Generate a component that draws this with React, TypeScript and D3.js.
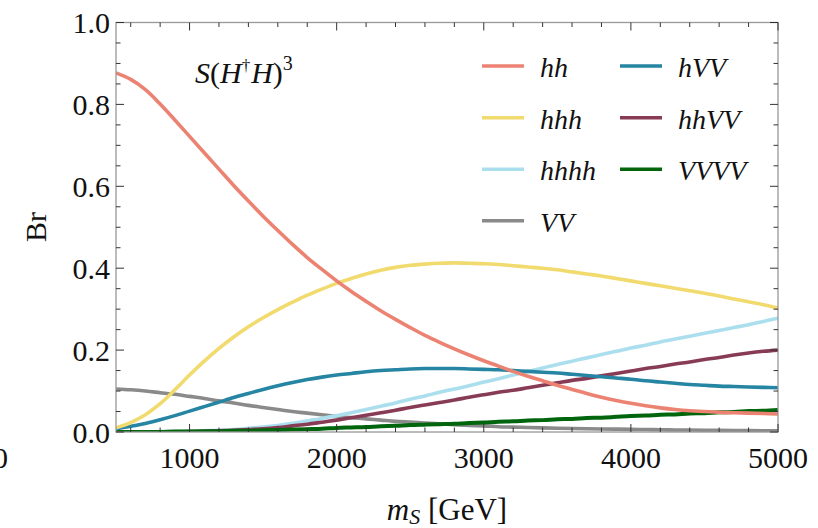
import React from "react";
import * as d3 from "d3";

const mass = [500, 600, 700, 800, 900, 1000, 1100, 1200, 1300, 1400, 1500, 1600, 1700, 1800, 1900, 2000, 2100, 2200, 2300, 2400, 2500, 2600, 2700, 2800, 2900, 3000, 3100, 3200, 3300, 3400, 3500, 3600, 3700, 3800, 3900, 4000, 4100, 4200, 4300, 4400, 4500, 4600, 4700, 4800, 4900, 5000];

const brHH = [0.877, 0.861, 0.836, 0.801, 0.762, 0.722, 0.682, 0.642, 0.602, 0.564, 0.527, 0.492, 0.458, 0.426, 0.397, 0.369, 0.343, 0.319, 0.296, 0.275, 0.255, 0.236, 0.219, 0.203, 0.188, 0.174, 0.161, 0.148, 0.136, 0.125, 0.114, 0.104, 0.094, 0.085, 0.077, 0.07, 0.064, 0.059, 0.055, 0.052, 0.05, 0.048, 0.047, 0.046, 0.045, 0.044];
const brHHH = [0.01, 0.023, 0.042, 0.069, 0.103, 0.139, 0.173, 0.204, 0.232, 0.257, 0.279, 0.299, 0.317, 0.334, 0.349, 0.363, 0.375, 0.386, 0.395, 0.402, 0.407, 0.41, 0.412, 0.413, 0.412, 0.411, 0.409, 0.406, 0.403, 0.4, 0.396, 0.391, 0.386, 0.381, 0.375, 0.369, 0.363, 0.357, 0.351, 0.345, 0.339, 0.332, 0.325, 0.318, 0.311, 0.303];
const brHHHH = [0, 0, 0, 0.001, 0.001, 0.002, 0.003, 0.004, 0.006, 0.009, 0.012, 0.016, 0.021, 0.027, 0.033, 0.04, 0.047, 0.055, 0.063, 0.071, 0.08, 0.088, 0.097, 0.105, 0.113, 0.122, 0.13, 0.139, 0.148, 0.156, 0.165, 0.173, 0.181, 0.189, 0.197, 0.205, 0.212, 0.22, 0.227, 0.234, 0.241, 0.248, 0.255, 0.262, 0.27, 0.278];
const brVV = [0.105, 0.103, 0.1, 0.096, 0.092, 0.087, 0.082, 0.076, 0.071, 0.065, 0.06, 0.055, 0.05, 0.046, 0.042, 0.038, 0.035, 0.032, 0.029, 0.026, 0.024, 0.022, 0.02, 0.018, 0.016, 0.015, 0.013, 0.012, 0.011, 0.01, 0.009, 0.0085, 0.008, 0.0075, 0.007, 0.0065, 0.006, 0.0055, 0.005, 0.0047, 0.0044, 0.0041, 0.0038, 0.0035, 0.0032, 0.003];
const brHVV = [0.008, 0.014, 0.021, 0.03, 0.04, 0.051, 0.062, 0.073, 0.084, 0.094, 0.104, 0.113, 0.121, 0.128, 0.134, 0.139, 0.143, 0.147, 0.15, 0.152, 0.154, 0.155, 0.155, 0.155, 0.154, 0.153, 0.152, 0.15, 0.148, 0.146, 0.144, 0.141, 0.138, 0.135, 0.132, 0.129, 0.125, 0.122, 0.119, 0.116, 0.114, 0.112, 0.111, 0.11, 0.109, 0.108];
const brHHVV = [0, 0, 0, 0, 0, 0.001, 0.002, 0.003, 0.004, 0.006, 0.008, 0.011, 0.015, 0.019, 0.024, 0.029, 0.035, 0.041, 0.047, 0.053, 0.06, 0.066, 0.072, 0.078, 0.085, 0.091, 0.097, 0.102, 0.108, 0.114, 0.12, 0.126, 0.131, 0.137, 0.143, 0.149, 0.155, 0.16, 0.166, 0.171, 0.177, 0.182, 0.188, 0.193, 0.197, 0.2];
const brVVVV = [0, 0, 0, 0, 0.001, 0.001, 0.002, 0.002, 0.003, 0.003, 0.004, 0.005, 0.006, 0.007, 0.008, 0.01, 0.011, 0.012, 0.014, 0.015, 0.017, 0.018, 0.019, 0.02, 0.022, 0.023, 0.025, 0.026, 0.028, 0.029, 0.031, 0.032, 0.034, 0.035, 0.037, 0.039, 0.04, 0.042, 0.043, 0.045, 0.046, 0.048, 0.049, 0.051, 0.052, 0.054];

const seriesNames = ["hh", "hhh", "hhhh", "VV", "hVV", "hhVV", "VVVV"];
const seriesValues = [brHH, brHHH, brHHHH, brVV, brHVV, brHHVV, brVVVV];
const seriesColors = ["#EC8272", "#F1DA6E", "#ABDFEE", "#8A8A8A", "#2585A3", "#883B55", "#00650C"];
const drawOrder = [3, 2, 5, 6, 4, 1, 0];

const xMajor = [1000, 2000, 3000, 4000, 5000];
const yMajor = [0, 0.2, 0.4, 0.6, 0.8, 1.0];

const W = 818;
const H = 528;
const L = 116, R = 778, T = 22.5, B = 432;

export default function App() {
  const x = d3.scaleLinear().domain([500, 5000]).range([L, R]);
  const y = d3.scaleLinear().domain([0, 1]).range([B, T]);
  const xMinor = d3.range(600, 5000, 200).filter((v) => v % 1000 !== 0);
  const yMinor = d3.range(0, 1.0001, 0.05).map((v) => +v.toFixed(2)).filter((v) => !yMajor.some((m) => Math.abs(m - v) < 1e-6));
  const line = d3
    .line<number>()
    .x((_, i) => x(mass[i]))
    .y((d) => y(d))
    .curve(d3.curveCatmullRom.alpha(0.5));
  const font = "'Liberation Serif', 'Times New Roman', serif";
  const tickColor = "#333";
  const legendCols = [482, 620];
  const legendRows = [66, 117.7, 169.2, 220.7];
  const legendLayout = [
    [0, 0], [0, 1], [0, 2], [0, 3], [1, 0], [1, 1], [1, 2],
  ];
  return (
    <svg width={W} height={H} style={{ position: "absolute", left: 0, top: 0, background: "#fff" }} fontFamily={font}>
      <defs>
        <clipPath id="plotClip">
          <rect x={L} y={T - 3} width={R - L} height={B - T + 3} />
        </clipPath>
      </defs>
      <g clipPath="url(#plotClip)">
        {drawOrder.map((k) => (
          <path key={k} d={line(seriesValues[k]) || ""} fill="none" stroke={seriesColors[k]} strokeWidth={k === 6 ? 4 : 3.6} strokeLinejoin="round" />
        ))}
      </g>
      <rect x={L} y={T} width={R - L} height={B - T} fill="none" stroke="#999" strokeWidth={1.3} />
      {xMajor.map((v) => (
        <g key={"xM" + v}>
          <line x1={x(v)} x2={x(v)} y1={B} y2={B - 8} stroke={tickColor} strokeWidth={1} />
          <line x1={x(v)} x2={x(v)} y1={T} y2={T + 8} stroke={tickColor} strokeWidth={1} />
          <text x={x(v)} y={468} textAnchor="middle" fontSize={30} fill="#111">{v}</text>
        </g>
      ))}
      {xMinor.map((v) => (
        <g key={"xm" + v}>
          <line x1={x(v)} x2={x(v)} y1={B} y2={B - 4.5} stroke={tickColor} strokeWidth={1} />
          <line x1={x(v)} x2={x(v)} y1={T} y2={T + 4.5} stroke={tickColor} strokeWidth={1} />
        </g>
      ))}
      {yMajor.map((v) => (
        <g key={"yM" + v}>
          <line x1={L} x2={L + 8} y1={y(v)} y2={y(v)} stroke={tickColor} strokeWidth={1} />
          <line x1={R} x2={R - 8} y1={y(v)} y2={y(v)} stroke={tickColor} strokeWidth={1} />
          <text x={110} y={y(v) + 10.5} textAnchor="end" fontSize={30} fill="#111">{v.toFixed(1)}</text>
        </g>
      ))}
      {yMinor.map((v) => (
        <g key={"ym" + v}>
          <line x1={L} x2={L + 4.5} y1={y(v)} y2={y(v)} stroke={tickColor} strokeWidth={1} />
          <line x1={R} x2={R - 4.5} y1={y(v)} y2={y(v)} stroke={tickColor} strokeWidth={1} />
        </g>
      ))}
      <text x={8} y={468} textAnchor="end" fontSize={30} fill="#111">0</text>
      <text x={(L + R) / 2} y={520} textAnchor="middle" fontSize={31} fill="#111">
        <tspan fontStyle="italic">m</tspan>
        <tspan fontStyle="italic" fontSize={22} dy={4}>S</tspan>
        <tspan dy={-4}> [GeV]</tspan>
      </text>
      <text transform="translate(46,227) rotate(-90)" textAnchor="middle" fontSize={30} fill="#111">Br</text>
      <text x={195} y={83} fontSize={30} fill="#111">
        <tspan fontStyle="italic">S</tspan>
        <tspan>(</tspan>
        <tspan fontStyle="italic">H</tspan>
        <tspan fontSize={17} dy={-12}>†</tspan>
        <tspan fontStyle="italic" dy={12} dx={1}>H</tspan>
        <tspan>)</tspan>
        <tspan fontSize={20} dy={-13}>3</tspan>
      </text>
      {seriesNames.map((name, k) => {
        const [c, r] = legendLayout[k];
        const lx = legendCols[c];
        const ly = legendRows[r];
        return (
          <g key={"lg" + k}>
            <line x1={lx} x2={lx + 42} y1={ly} y2={ly} stroke={seriesColors[k]} strokeWidth={3.6} />
            <text x={lx + 58} y={ly + 11} fontSize={28} fontStyle="italic" fill="#111">{name}</text>
          </g>
        );
      })}
    </svg>
  );
}
